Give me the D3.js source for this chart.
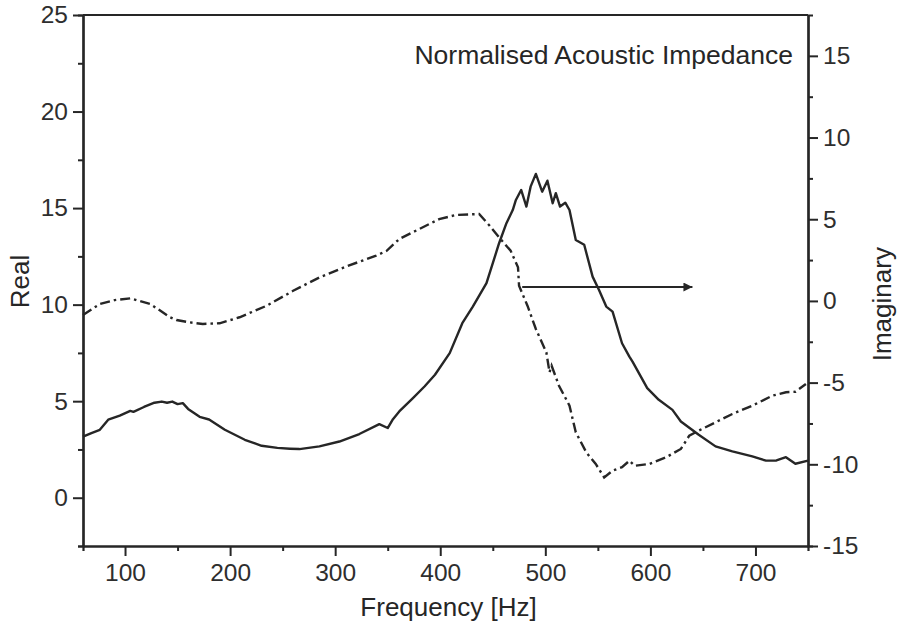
<!DOCTYPE html>
<html>
<head>
<meta charset="utf-8">
<script src="https://cdnjs.cloudflare.com/ajax/libs/d3/7.8.5/d3.min.js"></script>
<style>
  body { margin: 0; background: #fff; }
  text { font-family: "Liberation Sans", Arial, sans-serif; fill: #262626; }
</style>
</head>
<body>
<div id="chart"></div>
<script>
// Real part (left axis)
const realFreq = [60, 68, 76, 84, 95, 105, 108, 118, 128, 135, 140, 145, 150, 155, 160, 171, 180, 195, 214, 230, 245, 257, 266, 285, 304, 323, 342, 350, 355, 361, 374, 385, 395, 409, 421, 431, 444, 456, 463, 469, 472, 477, 482, 486, 491, 497, 502, 507, 510, 514, 519, 523, 529, 537, 545, 551, 558, 564, 573, 580, 583, 597, 608, 621, 629, 646, 662, 678, 697, 710, 720, 729, 738, 750];
const realValues = [3.16, 3.35, 3.52, 4.04, 4.25, 4.5, 4.45, 4.7, 4.92, 4.98, 4.92, 4.98, 4.85, 4.9, 4.6, 4.19, 4.05, 3.52, 3.0, 2.69, 2.58, 2.54, 2.52, 2.66, 2.91, 3.30, 3.81, 3.61, 4.07, 4.47, 5.16, 5.76, 6.37, 7.49, 9.04, 9.90, 11.11, 13.18, 14.22, 14.9, 15.42, 15.94, 15.08, 16.11, 16.77, 15.85, 16.42, 15.25, 15.77, 15.08, 15.28, 14.9, 13.35, 13.1, 11.45, 10.77, 9.9, 9.64, 8.0, 7.31, 7.05, 5.68, 5.07, 4.55, 3.95, 3.26, 2.66, 2.40, 2.14, 1.92, 1.93, 2.1, 1.76, 1.92];

// Imaginary part (right axis)
const imagFreq = [60, 76, 90, 105, 124, 143, 149, 160, 174, 190, 209, 235, 260, 285, 311, 339, 349, 361, 380, 399, 415, 437, 447, 456, 467, 474, 475, 483, 491, 501, 504, 506, 513, 523, 529, 539, 548, 556, 564, 573, 580, 585, 599, 615, 629, 637, 646, 662, 678, 697, 716, 729, 738, 748];
const imagValues = [-0.86, -0.19, 0.05, 0.16, -0.19, -1.0, -1.17, -1.3, -1.41, -1.37, -1.0, -0.29, 0.62, 1.44, 2.12, 2.77, 3.07, 3.79, 4.4, 5.01, 5.26, 5.32, 4.6, 3.89, 3.07, 2.06, 0.93, -0.29, -1.72, -3.15, -4.37, -3.97, -5.19, -6.41, -8.04, -9.27, -9.98, -10.8, -10.39, -10.18, -9.78, -10.09, -9.98, -9.57, -9.06, -8.25, -7.94, -7.43, -6.92, -6.41, -5.8, -5.59, -5.56, -5.09];

// Tick values
const freqTicks = [100, 200, 300, 400, 500, 600, 700];
const realTicks = [0, 5, 10, 15, 20, 25];
const imagTicks = [-15, -10, -5, 0, 5, 10, 15];

// Arrow pointing to the right axis (frequency range, imaginary value)
const arrowFreq = [478, 640];
const arrowImag = 0.85;

const width = 901;
const height = 630;
const margin = { top: 15, right: 93, bottom: 84, left: 83 };
const chartWidth = width - margin.left - margin.right;
const chartHeight = height - margin.top - margin.bottom;
const ink = '#262626';

const svg = d3.select('#chart').append('svg')
  .attr('width', width)
  .attr('height', height);

const x = d3.scaleLinear().domain([60, 750]).range([0, chartWidth]);
const yReal = d3.scaleLinear().domain([-2.5, 25]).range([chartHeight, 0]);
const yImag = d3.scaleLinear().domain([-15, 17.5]).range([chartHeight, 0]);

const g = svg.append('g')
  .attr('transform', `translate(${margin.left},${margin.top})`);

// minor ticks first, then major axes on top
function minor(axisFn, scale, values) {
  return axisFn(scale).tickValues(values).tickSize(5).tickFormat('');
}

const xMinor = freqTicks.map(d => d + 50).filter(d => d < 750);
g.append('g').attr('transform', `translate(0,${chartHeight})`)
  .call(minor(d3.axisBottom, x, xMinor));
g.append('g')
  .call(minor(d3.axisLeft, yReal, [-2.5, 2.5, 7.5, 12.5, 17.5, 22.5]));
g.append('g').attr('transform', `translate(${chartWidth},0)`)
  .call(minor(d3.axisRight, yImag, [-12.5, -7.5, -2.5, 2.5, 7.5, 12.5]));

g.append('g')
  .attr('class', 'x-axis')
  .attr('transform', `translate(0,${chartHeight})`)
  .call(d3.axisBottom(x).tickValues(freqTicks).tickSize(10).tickPadding(8).tickSizeOuter(0));

g.append('g')
  .attr('class', 'y-axis')
  .call(d3.axisLeft(yReal).tickValues(realTicks).tickSize(10).tickPadding(5).tickSizeOuter(0));

g.append('g')
  .attr('class', 'y2-axis')
  .attr('transform', `translate(${chartWidth},0)`)
  .call(d3.axisRight(yImag).tickValues(imagTicks).tickSize(10).tickPadding(5).tickSizeOuter(0)
    .tickFormat(d => d < 0 ? '-' + Math.abs(d) : d));

// top frame line
g.append('line')
  .attr('x1', 0).attr('x2', chartWidth)
  .attr('y1', 0).attr('y2', 0)
  .attr('stroke', ink).attr('stroke-width', 2.2);

g.selectAll('.domain').attr('stroke', ink).attr('stroke-width', 2.2);
g.selectAll('.tick line').attr('stroke', ink).attr('stroke-width', 2);
g.selectAll('.tick text').attr('font-size', 24.5).style('fill', '#2e2e2e');

// curves
const realLine = d3.line()
  .x((d, i) => x(realFreq[i]))
  .y(d => yReal(d));

const imagLine = d3.line()
  .x((d, i) => x(imagFreq[i]))
  .y(d => yImag(d));

g.append('path')
  .datum(realValues)
  .attr('fill', 'none')
  .attr('stroke', ink)
  .attr('stroke-width', 2.4)
  .attr('stroke-linejoin', 'round')
  .attr('d', realLine);

g.append('path')
  .datum(imagValues)
  .attr('fill', 'none')
  .attr('stroke', ink)
  .attr('stroke-width', 2.4)
  .attr('stroke-dasharray', '10,4,2.5,4')
  .attr('d', imagLine);

// arrow
svg.append('defs').append('marker')
  .attr('id', 'head')
  .attr('viewBox', '0 0 10 10')
  .attr('refX', 10).attr('refY', 5)
  .attr('markerWidth', 15).attr('markerHeight', 9)
  .attr('markerUnits', 'userSpaceOnUse')
  .attr('orient', 'auto')
  .append('path')
  .attr('d', 'M0,0L10,5L0,10Z')
  .attr('fill', ink);

g.append('line')
  .attr('x1', x(arrowFreq[0])).attr('x2', x(arrowFreq[1]))
  .attr('y1', yImag(arrowImag)).attr('y2', yImag(arrowImag))
  .attr('stroke', ink)
  .attr('stroke-width', 2)
  .attr('marker-end', 'url(#head)');

// labels
g.append('text')
  .attr('x', chartWidth - 15)
  .attr('y', 49)
  .attr('text-anchor', 'end')
  .attr('font-size', 26.5)
  .text('Normalised Acoustic Impedance');

svg.append('text')
  .attr('x', margin.left + chartWidth / 2 + 3)
  .attr('y', 616)
  .attr('text-anchor', 'middle')
  .attr('font-size', 26)
  .text('Frequency [Hz]');

svg.append('text')
  .attr('transform', `translate(29,${margin.top + yReal(11.2)}) rotate(-90)`)
  .attr('text-anchor', 'middle')
  .attr('font-size', 26)
  .text('Real');

svg.append('text')
  .attr('transform', `translate(891,${margin.top + yImag(-0.2)}) rotate(-90)`)
  .attr('text-anchor', 'middle')
  .attr('font-size', 26)
  .text('Imaginary');
</script>
</body>
</html>
